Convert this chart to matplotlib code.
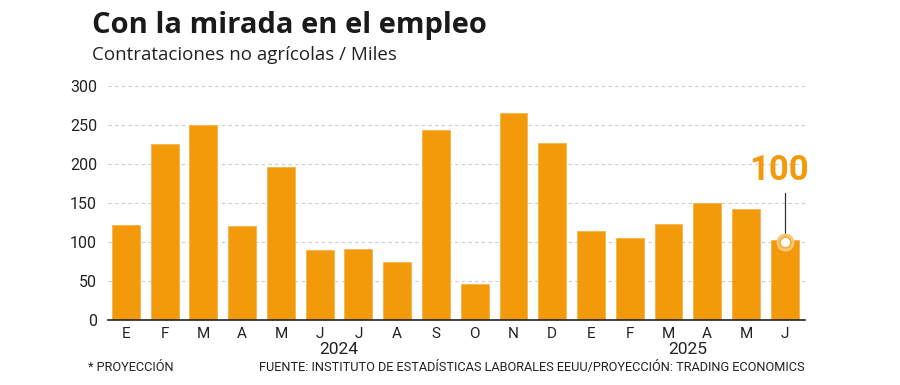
import numpy as np
import matplotlib
matplotlib.use("Agg")
import matplotlib.pyplot as plt

plt.rcParams['font.family'] = ['Roboto', 'DejaVu Sans']

# datos: contrataciones no agricolas (miles)
months = ['E', 'F', 'M', 'A', 'M', 'J', 'J', 'A', 'S', 'O', 'N', 'D',
          'E', 'F', 'M', 'A', 'M', 'J']
jobs = [122, 226, 250, 121, 196, 90, 91, 74, 244, 46, 265, 227,
        114, 105, 123, 150, 142, 103]
years = ['2024', '2025']
year_pos = [5.5, 14.5]
forecast = 100
yticks = [0, 50, 100, 150, 200, 250, 300]

ORANGE = '#F39A0B'
TXT = '#222222'

fig = plt.figure(figsize=(9, 3.85), dpi=100)
ax = fig.add_axes([0.12, 0.1688, 0.7744, 0.6078])

x = np.arange(len(jobs))
ax.bar(x, jobs, width=0.72, color=ORANGE, edgecolor='#F7B24A', linewidth=0.6, zorder=2)

ax.set_xlim(-0.46, 17.52)
ax.set_ylim(0, 300)
ax.set_yticks(yticks)
ax.set_yticklabels([str(v) for v in yticks], fontsize=11.5, color=TXT)
ax.set_xticks(x)
ax.set_xticklabels(months, fontsize=11, color=TXT)
ax.tick_params(axis='both', length=0)
ax.tick_params(axis='y', pad=8)
ax.tick_params(axis='x', pad=5)

for v in yticks[1:]:
    ax.axhline(v, color='#cccccc', linestyle=(0, (3, 3)), linewidth=0.8, zorder=1)

for s in ['top', 'right', 'left']:
    ax.spines[s].set_visible(False)
ax.spines['bottom'].set_color('#222222')
ax.spines['bottom'].set_linewidth(1.2)

for yr, p in zip(years, year_pos):
    ax.text(p, -0.095, yr, transform=ax.get_xaxis_transform(), ha='center', va='top',
            fontsize=12.5, color=TXT)

# proyeccion
last = x[-1]
ax.plot([last, last], [forecast + 8, 163], color='#333333', linewidth=0.9, zorder=3)
ax.scatter([last], [forecast], s=170, color='#FBC77A', zorder=4, linewidths=0)
ax.scatter([last], [forecast], s=60, color='white', edgecolor='#F5A623', linewidths=1, zorder=5)
ax.text(last - 0.15, 170, str(forecast), ha='center', va='bottom', fontsize=25,
        fontweight='bold', color=ORANGE, fontstretch='condensed')

fig.text(0.102, 0.935, 'Con la mirada en el empleo', fontsize=21, fontweight='bold',
         color='#1a1a1a', va='center', family=['Open Sans', 'DejaVu Sans'])
fig.text(0.102, 0.857, 'Contrataciones no agrícolas / Miles', fontsize=13.5, color=TXT,
         va='center', family=['Open Sans', 'DejaVu Sans'])
fig.text(0.098, 0.045, '* PROYECCIÓN', fontsize=9.2, color=TXT, va='center')
fig.text(0.894, 0.045, 'FUENTE: INSTITUTO DE ESTADÍSTICAS LABORALES EEUU/PROYECCIÓN: TRADING ECONOMICS',
         fontsize=9.2, color=TXT, va='center', ha='right')

fig.savefig('out.png', dpi=100)
